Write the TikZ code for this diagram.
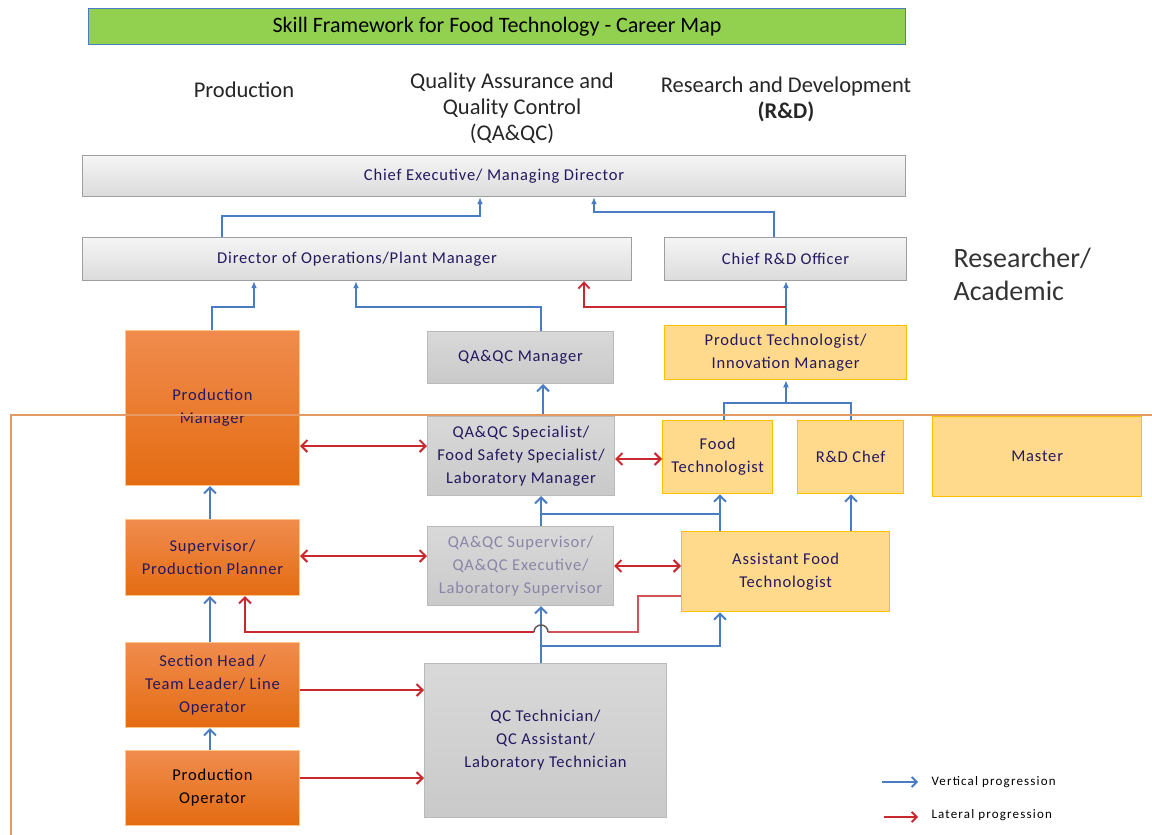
\documentclass[tikz,border=0pt]{standalone}
\usepackage{fontspec}
\setmainfont{Carlito}
\newfontfamily\lblfont[LetterSpace=5]{Carlito}
\newfontfamily\legfont[LetterSpace=9]{Carlito}
\usetikzlibrary{arrows.meta}
\definecolor{navy}{HTML}{24185F}
\definecolor{blu}{HTML}{4A7CC4}
\definecolor{rd}{HTML}{C8282E}
\definecolor{orfr}{HTML}{E59A66}
\tikzset{
  barb/.tip={Straight Barb[length=6pt,width=12pt,line width=2pt]},
  lbl/.style={font=\lblfont\fontsize{16.5}{23}\selectfont, text=navy, align=center},
  gbox/.style={lbl, draw=gray!75, line width=1.2pt, top color=gray!8, bottom color=gray!28, anchor=north west, inner sep=0pt},
  qbox/.style={lbl, draw=gray!55, line width=1pt, top color=gray!30, bottom color=gray!42, anchor=north west, inner sep=0pt},
  obox/.style={lbl, draw=orange!45, line width=1pt, top color={rgb,255:red,240;green,140;blue,78}, bottom color={rgb,255:red,228;green,108;blue,18}, anchor=north west, inner sep=0pt},
  ybox/.style={lbl, draw={rgb,255:red,255;green,192;blue,0}, line width=1.3pt, fill={rgb,255:red,255;green,217;blue,140}, anchor=north west, inner sep=0pt},
  hdr/.style={font=\fontsize{22.5}{26}\selectfont, text=black!85, align=center},
  vline/.style={draw=blu, line width=1.9pt, -{barb}},
  vplain/.style={draw=blu, line width=1.7pt},
  vsmall/.style={draw=blu, line width=1.5pt, -{Latex[length=7pt,width=6pt]}},
  lat/.style={draw=rd, line width=2pt, -{barb}},
  latd/.style={draw=rd, line width=2pt, {barb}-{barb}},
}
\begin{document}
\begin{tikzpicture}[x=1pt,y=-1pt]
\useasboundingbox (0,0) rectangle (1152,835);
% title
\node[draw=blu, line width=1pt, fill={rgb,255:red,146;green,208;blue,80}, anchor=north west, minimum width=817pt, minimum height=36pt, inner sep=0pt, font=\fontsize{22}{24}\selectfont] (title) at (88,8) {Skill Framework for Food Technology - Career Map};
% headers
\node[hdr] (hprod) at (244,90) {Production};
\node[hdr] (hqa) at (512,108) {Quality Assurance and\\Quality Control\\(QA\&QC)};
\node[hdr] (hrd) at (786,99) {Research and Development\\\textbf{(R\&D)}};
\node[font=\fontsize{28}{33}\selectfont, text=black!80, align=left, anchor=west] (res) at (950,274) {Researcher/\\Academic};
% boxes
\node[gbox, minimum width=823pt, minimum height=41pt] (ceo) at (82,155) {Chief Executive/ Managing Director};
\node[gbox, minimum width=549pt, minimum height=43pt] (dir) at (82,237) {Director of Operations/Plant Manager};
\node[gbox, minimum width=242pt, minimum height=43pt] (crd) at (664,237) {Chief R\&D Officer};
\node[obox, minimum width=174pt, minimum height=155pt] (pm) at (125,330) {Production\\Manager};
\node[qbox, minimum width=186pt, minimum height=52pt] (qam) at (427,331) {QA\&QC Manager};
\node[ybox, minimum width=242pt, minimum height=54pt] (pt) at (664,325) {Product Technologist/\\Innovation Manager};
\node[qbox, minimum width=187pt, minimum height=79pt] (qas) at (427,416) {QA\&QC Specialist/\\Food Safety Specialist/\\Laboratory Manager};
\node[ybox, minimum width=110pt, minimum height=73pt] (ft) at (662,420) {Food\\Technologist};
\node[ybox, minimum width=106pt, minimum height=73pt] (chef) at (797,420) {R\&D Chef};
\node[ybox, minimum width=209pt, minimum height=80pt] (mst) at (932,416) {Master};
\node[obox, minimum width=174pt, minimum height=76pt] (sup) at (125,519) {Supervisor/\\Production Planner};
\node[qbox, minimum width=186pt, minimum height=79pt, text={rgb,255:red,140;green,132;blue,166}] (qsup) at (427,526) {QA\&QC Supervisor/\\QA\&QC Executive/\\Laboratory Supervisor};
\node[ybox, minimum width=208pt, minimum height=80pt] (aft) at (681,531) {Assistant Food\\Technologist};
\node[obox, minimum width=174pt, minimum height=85pt] (sh) at (125,642) {Section Head /\\Team Leader/ Line\\Operator};
\node[qbox, minimum width=242pt, minimum height=154pt] (qct) at (424,663) {QC Technician/\\QC Assistant/\\Laboratory Technician};
\node[obox, minimum width=174pt, minimum height=75pt, text=black] (po) at (125,750) {Production\\Operator};
% vertical progression (top)
\draw[vsmall] (222,0 |- dir.north) -- (222,216) -- (480,216) -- (480,0 |- ceo.south);
\draw[vsmall] (774,0 |- crd.north) -- (774,212) -- (594,212) -- (594,0 |- ceo.south);
\draw[vsmall] (212,0 |- pm.north) -- (212,307) -- (254,307) -- (254,0 |- dir.south);
\draw[vsmall] (541,0 |- qam.north) -- (541,307) -- (356,307) -- (356,0 |- dir.south);
\draw[vsmall] (786,0 |- pt.north) -- (786,0 |- crd.south);
\draw[draw=rd, line width=1.8pt, -{Straight Barb[length=6pt,width=11pt,line width=1.8pt]}] (786,307) -- (584,307) -- (584,0 |- dir.south);
\draw[vplain] (724,0 |- ft.north) -- (724,403) -- (851,403) -- (851,0 |- chef.north);
\draw[vsmall] (786,403) -- (786,0 |- pt.south);
% vertical progression (lower)
\draw[vline] (543,0 |- qas.north) -- (543,0 |- qam.south);
\draw[vline] (210,0 |- sup.north) -- (210,0 |- pm.south);
\draw[vline] (541,0 |- qsup.north) -- (541,0 |- qas.south);
\draw[vline] (541,514) -- (720,514) -- (720,0 |- ft.south);
\draw[vplain] (720,0 |- aft.north) -- (720,514);
\draw[vline] (851,0 |- aft.north) -- (851,0 |- chef.south);
\draw[vline] (210,0 |- sh.north) -- (210,0 |- sup.south);
\draw[vline] (210,0 |- po.north) -- (210,0 |- sh.south);
\draw[vline] (541,0 |- qct.north) -- (541,0 |- qsup.south);
\draw[vline] (541,646) -- (720,646) -- (720,0 |- aft.south);
% lateral progression
\draw[latd] (pm.east |- 0,446) -- (qas.west |- 0,446);
\draw[latd] (qas.east |- 0,459) -- (ft.west |- 0,459);
\draw[latd] (sup.east |- 0,556) -- (qsup.west |- 0,556);
\draw[latd] (qsup.east |- 0,566) -- (aft.west |- 0,566);
\draw[lat] (sh.east |- 0,690) -- (qct.west |- 0,690);
\draw[lat] (po.east |- 0,778) -- (qct.west |- 0,778);
\draw[draw=rd!80, line width=1.8pt] (aft.west |- 0,596) -- (638,596) -- (638,632) -- (548,632);
\draw[draw=black!65, line width=1.5pt] (548,632) arc (0:-180:7);
\draw[lat] (534,632) -- (245,632) -- (245,0 |- sup.south);
% orange frame
\draw[draw=orfr, line width=1.6pt] (1152,415) -- (11,415) -- (11,835);
% legend
\coordinate (lb1) at (882,782);
\coordinate (le1) at (918,782);
\coordinate (lb2) at (884,817);
\coordinate (le2) at (918,817);
\draw[draw=blu, line width=1.8pt, -{Straight Barb[length=5pt,width=10pt,line width=1.8pt]}] (lb1) -- (le1);
\draw[draw=rd, line width=1.8pt, -{Straight Barb[length=5pt,width=10pt,line width=1.8pt]}] (lb2) -- (le2);
\node[anchor=west, font=\legfont\fontsize{13}{14}\selectfont] (lv) at (928,782) {Vertical progression};
\node[anchor=west, font=\legfont\fontsize{13}{14}\selectfont] (ll) at (928,815) {Lateral progression};
\end{tikzpicture}
\end{document}
